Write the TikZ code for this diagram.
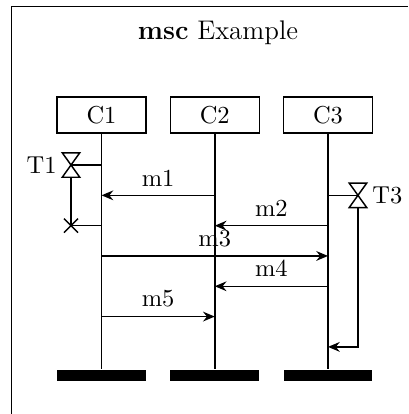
\documentclass[tikz,border=0pt]{standalone}
\usetikzlibrary{arrows.meta,calc,shapes.misc}

\begin{document}
\begin{tikzpicture}[x=1cm,y=1cm,line width=.6pt,
  every node/.style={inner sep=2pt},
  inst/.style={draw,minimum width=1.277cm,minimum height=.517cm},
  bar/.style={fill=black,minimum width=1.277cm,minimum height=.158cm,inner sep=0pt},
  timer/.style={minimum width=.23cm,minimum height=.33cm,inner sep=0pt},
  stop/.style={draw,cross out,minimum size=.18cm,inner sep=0pt},
  msg/.style={-{Stealth[length=4.8pt,width=4pt,inset=1.6pt]}},
  lbl/.style={above,inner sep=3.5pt}]

\useasboundingbox (0,0) rectangle (5.855,5.941);
% Levels sit .435 cm apart, level 0 is the first timer.
\def\lvl{.435}
\def\ystart{3.573}

% frame and title
\draw (0.165,0) |- (5.855,5.848);
\node[font=\fontsize{11}{13}\selectfont,anchor=base] (title) at (3.128,5.381)
  {\textbf{msc} Example};

% -------------------------------------------------------------------------
% Instances, lifelines and one point per level on each lifeline.
% -------------------------------------------------------------------------
\foreach \n/\x in {1/1.457,2/3.082,3/4.707}{
  \node[inst] (c\n) at (\x,4.29) {C\n};
  \node[bar,anchor=north] (e\n) at (\x,.646) {};
  \draw (c\n.south) -- (e\n.north);
  \foreach \l in {0,...,6}
    \coordinate (p\n\l) at (\x,\ystart-\l*\lvl);
}

% -------------------------------------------------------------------------
% Timers.
% -------------------------------------------------------------------------
\node[timer] (t1) at ($(p10)+(-.438,0)$) {};
\node[timer] (t3) at ($(p31)+(.43,0)$) {};
\foreach \t in {t1,t3}
  \draw (\t.north west) -- (\t.north east) -- (\t.south west)
    -- (\t.south east) -- cycle;
\node[anchor=east] (t1l) at (t1.west) {T1};
\node[anchor=west] (t3l) at (t3.east) {T3};
\node[stop] (x1) at ($(p12)+(-.438,0)$) {};
\draw (p10) -- (t1.center);
\draw (t1.south) -- (x1.center);
\draw (x1.center) -- (p12);
\draw (p31) -- (t3.center);
\draw[msg] (t3.south) |- (p36);

% -------------------------------------------------------------------------
% Messages.
% -------------------------------------------------------------------------
\draw[msg] (p21) -- node[lbl] (m1) {m1} (p11);
\draw[msg] (p32) -- node[lbl] (m2) {m2} (p22);
\draw[msg] (p13) -- node[lbl] (m3) {m3} (p33);
\draw[msg] (p34) -- node[lbl] (m4) {m4} (p24);
\draw[msg] (p15) -- node[lbl] (m5) {m5} (p25);
\end{tikzpicture}
\end{document}
